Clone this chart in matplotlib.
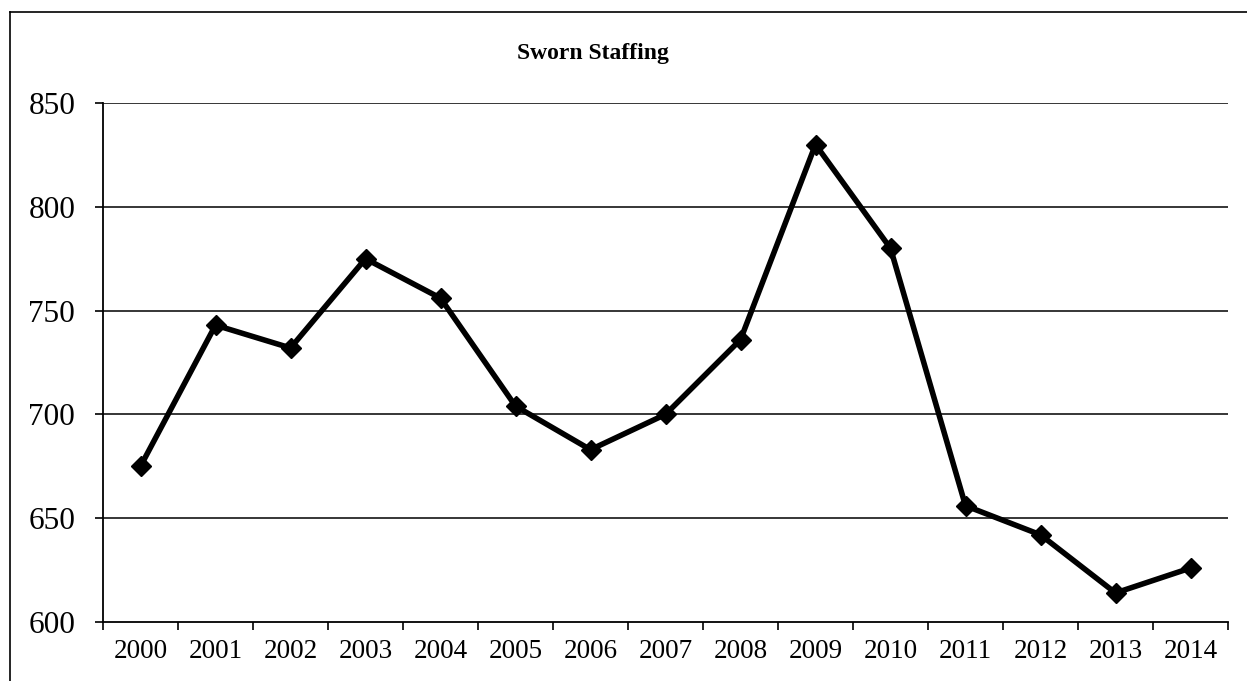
import matplotlib
matplotlib.use("Agg")
import matplotlib.pyplot as plt
from matplotlib.lines import Line2D

years = ["2000", "2001", "2002", "2003", "2004", "2005", "2006", "2007",
         "2008", "2009", "2010", "2011", "2012", "2013", "2014"]
staffing = [675, 743, 732, 775, 756, 704, 683, 700, 736, 830, 780, 656, 642, 614, 626]
y_ticks = [600, 650, 700, 750, 800, 850]
title = "Sworn Staffing"

plt.rcParams['font.family'] = ['Liberation Serif', 'DejaVu Serif']

fig = plt.figure(figsize=(12.47, 6.81), dpi=100)
ax = fig.add_axes([103/1247, 1 - 622/681, (1228-103)/1247, (622-103)/681])

x = list(range(len(years)))
for yv in y_ticks[1:]:
    ax.axhline(yv, color='black', linewidth=1.1, zorder=1)
ax.plot(x, staffing, color='black', linewidth=4, marker='D', markersize=10,
        markerfacecolor='black', markeredgecolor='black', zorder=3)

ax.set_xlim(-0.5, len(years) - 0.5)
ax.set_ylim(600, 850)
ax.set_yticks(y_ticks)
ax.set_yticklabels([str(v) for v in y_ticks], fontsize=22.5)
ax.set_xticks(x)
ax.set_xticklabels(years, fontsize=19.5)
ax.set_xticks([i - 0.5 for i in range(len(years) + 1)], minor=True)
ax.tick_params(axis='x', which='major', length=0, pad=12)
ax.tick_params(axis='x', which='minor', length=6, width=1.2, direction='out')
ax.tick_params(axis='y', which='major', length=6, width=1.2, direction='out', pad=14)

for s in ['top', 'right']:
    ax.spines[s].set_visible(False)
for s in ['left', 'bottom']:
    ax.spines[s].set_linewidth(1.3)
    ax.spines[s].set_color('black')

fig.text(593/1247, 1 - 53/681, title, ha='center', va='center',
         fontsize=17, fontweight='bold')

# outer chart border (left and top)
fig.add_artist(Line2D([10/1247, 10/1247], [0, 1 - 12/681], transform=fig.transFigure,
                      color='black', linewidth=1.2))
fig.add_artist(Line2D([10/1247, 1], [1 - 12/681, 1 - 12/681], transform=fig.transFigure,
                      color='black', linewidth=1.2))

fig.savefig("out.png", dpi=100)
